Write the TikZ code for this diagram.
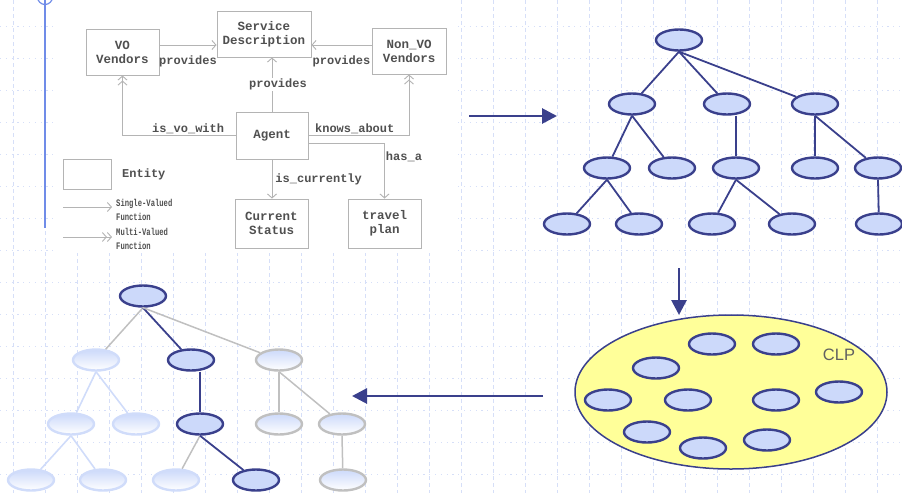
\documentclass[tikz,border=0pt]{standalone}
\usepackage{fontspec}
\usepackage{graphicx}
\newfontfamily\ermono{Liberation Mono}
\newfontfamily\clpsans{Liberation Sans}
\usetikzlibrary{arrows.meta,shapes.geometric,positioning}
\definecolor{navy}{RGB}{58,64,140}
\definecolor{nodefill}{RGB}{204,217,250}
\definecolor{fadeline}{RGB}{208,220,250}
\definecolor{grayline}{RGB}{192,192,192}
\definecolor{clpyellow}{RGB}{255,255,153}
\definecolor{gridcol}{RGB}{214,223,248}
\definecolor{sidecol}{RGB}{112,140,232}
\definecolor{erline}{RGB}{180,180,180}
\definecolor{ertext}{RGB}{80,80,80}
\newcommand{\narrow}[1]{\scalebox{0.72}[1]{#1}}

\begin{document}
\begin{tikzpicture}[x=1pt,y=-1pt,
    gridv/.style={gridcol, line width=0.8pt, dash pattern=on 4pt off 3pt},
    gridh/.style={gridcol, line width=0.9pt, dash pattern=on 1.2pt off 4.6pt},
    erbox/.style={draw=erline, line width=0.9pt, fill=white, minimum width=73pt, minimum height=46pt, align=center, inner sep=1pt, text=ertext, font={\ermono\bfseries\fontsize{12.5}{14}\selectfont}},
    erlbl/.style={inner sep=1pt, text=ertext, font={\ermono\bfseries\fontsize{12}{14}\selectfont}},
    erleg/.style={inner sep=1pt, align=left, text=ertext, font={\ermono\bfseries\fontsize{10}{14}\selectfont}},
    sv/.style={draw=erline, line width=0.9pt, -{Straight Barb[length=4pt,width=9pt]}},
    mv/.style={draw=erline, line width=0.9pt, -{Straight Barb[length=4pt,width=9pt]Straight Barb[length=4pt,width=9pt]}},
    tnode/.style={ellipse, draw=navy, line width=2.4pt, fill=nodefill, minimum width=46pt, minimum height=21pt, inner sep=0pt},
    fnode/.style={ellipse, draw=fadeline, line width=2.4pt, top color=nodefill, bottom color=white, minimum width=46pt, minimum height=21pt, inner sep=0pt},
    gnode/.style={ellipse, draw=grayline, line width=2.4pt, top color=nodefill, bottom color=white, minimum width=46pt, minimum height=21pt, inner sep=0pt},
    tedge/.style={navy, line width=1.8pt},
    fedge/.style={fadeline, line width=1.6pt},
    gedge/.style={grayline, line width=1.5pt},
    bigarr/.style={navy, line width=2.8pt, -{Triangle[length=15pt,width=15pt]}}
]
\useasboundingbox (0,0) rectangle (902,493);

% background grid
\foreach \gx in {0,...,27}
  \draw[gridv] ({13+32*\gx},0) -- ({13+32*\gx},493);
\foreach \gy in {0,...,14}
  \draw[gridh] (0,{26+32*\gy}) -- (902,{26+32*\gy});

% pasted ER figure
\fill[white] (53,0) rectangle (458,253);
\draw[sidecol, line width=1.4pt] (45,0) -- (45,228);
\draw[sidecol, line width=1.2pt] (45,-3) circle (7.5pt);

\node[erbox] (vo) at (122.5,52) {VO\\Vendors};
\node[erbox, minimum width=94pt] (sd) at (264,34) {Service\\Description};
\node[erbox, minimum width=74pt] (nonvo) at (409,51) {Non\_VO\\Vendors};
\node[erbox, minimum width=72pt, minimum height=47pt] (agent) at (272,135.5) {Agent};
\node[erbox, minimum height=49pt] (cs) at (271.5,223.5) {Current\\Status};
\node[erbox, minimum height=49pt] (travel) at (384.5,223.5) {travel\\plan};

\draw[sv] ([yshift=7pt]vo.east) -- node[erlbl, below=9pt] (lprov1) {provides} ([yshift=-11pt]sd.west);
\draw[sv] ([yshift=6pt]nonvo.west) -- node[erlbl, below=9pt] (lprov2) {provides} ([yshift=-11pt]sd.east);
\draw[sv] (agent.north) -- node[erlbl, fill=white, xshift=6pt] (lprov3) {provides} (agent.north |- sd.south);
\draw[mv] (agent.west) -| node[erlbl, above, pos=.21] (lvo) {is\_vo\_with} (vo.south);
\draw[mv] (agent.east) -| node[erlbl, above, pos=.23] (lknow) {knows\_about} (nonvo.south);
\draw[sv] (agent.south) -- node[erlbl, right=2pt] (lcur) {is\_currently} (agent.south |- cs.north);
\draw[sv] ([yshift=-8pt]agent.east) -| node[erlbl, right, pos=.62] (lhas) {has\_a} (travel.north);

% legend
\node[erbox, minimum width=48pt, minimum height=30pt] (entity) at (87,174) {};
\node[erlbl, anchor=west] (lentity) at (121,174) {Entity};
\coordinate (sva) at (63,207);
\coordinate (svb) at (112,207);
\draw[sv] (sva) -- (svb);
\node[erleg, anchor=west] (lsv) at (115,210) {\narrow{Single-Valued}\\\narrow{Function}};
\coordinate (mva) at (63,237);
\coordinate (mvb) at (112,237);
\draw[mv] (mva) -- (mvb);
\node[erleg, anchor=west] (lmv) at (115,239) {\narrow{Multi-Valued}\\\narrow{Function}};

% full tree
\node[tnode] (r) at (679,40) {};
\node[tnode] (a) at (632,104) {};
\node[tnode] (b) at (727,104) {};
\node[tnode] (c) at (815,104) {};
\node[tnode] (aa) at (607,168) {};
\node[tnode] (ab) at (672,168) {};
\node[tnode] (ba) at (736,168) {};
\node[tnode] (ca) at (815,168) {};
\node[tnode] (cb) at (878,168) {};
\node[tnode] (aaa) at (567,224) {};
\node[tnode] (aab) at (639,224) {};
\node[tnode] (baa) at (712,224) {};
\node[tnode] (bab) at (792,224) {};
\node[tnode] (cba) at (879,224) {};
\foreach \p/\q in {r/a,r/b,r/c,a/aa,a/ab,c/ca,c/cb,aa/aaa,aa/aab,ba/baa,ba/bab,cb/cba}
  \draw[tedge] (\p.south) -- (\q);
\draw[tedge] (ba |- b.south) -- (ba.north);

% CLP store
\node[ellipse, draw=navy, line width=1.5pt, fill=clpyellow, minimum width=312pt, minimum height=154pt] (clp) at (731,392) {};
\node[inner sep=0pt, text=black!62, font={\clpsans\fontsize{16.5}{18}\selectfont}] (clplbl) at (839,355) {CLP};
\node[tnode] (k1) at (712,344) {};
\node[tnode] (k2) at (776,344) {};
\node[tnode] (k3) at (656,368) {};
\node[tnode] (k4) at (608,400) {};
\node[tnode] (k5) at (688,400) {};
\node[tnode] (k6) at (776,400) {};
\node[tnode] (k7) at (839,392) {};
\node[tnode] (k8) at (647,432) {};
\node[tnode] (k9) at (703,448) {};
\node[tnode] (k10) at (767,440) {};

% pruned tree
\begin{scope}[shift={(-536,256)}]
\node[tnode] (qr) at (679,40) {};
\node[fnode] (qa) at (632,104) {};
\node[tnode] (qb) at (727,104) {};
\node[gnode] (qc) at (815,104) {};
\node[fnode] (qaa) at (607,168) {};
\node[fnode] (qab) at (672,168) {};
\node[tnode] (qba) at (736,168) {};
\node[gnode] (qca) at (815,168) {};
\node[gnode] (qcb) at (878,168) {};
\node[fnode] (qaaa) at (567,224) {};
\node[fnode] (qaab) at (639,224) {};
\node[fnode] (qbaa) at (712,224) {};
\node[tnode] (qbab) at (792,224) {};
\node[gnode] (qcba) at (879,224) {};
\end{scope}
\draw[gedge] (qr.south) -- (qa);
\draw[tedge] (qr.south) -- (qb);
\draw[gedge] (qr.south) -- (qc);
\foreach \p/\q in {qa/qaa,qa/qab,qaa/qaaa,qaa/qaab}
  \draw[fedge] (\p.south) -- (\q);
\foreach \p/\q in {qc/qca,qc/qcb,qcb/qcba,qba/qbaa}
  \draw[gedge] (\p.south) -- (\q);
\draw[tedge] (qba |- qb.south) -- (qba.north);
\draw[tedge] (qba.south) -- (qbab);

% steps
\coordinate (s1a) at (469,116);
\coordinate (s1b) at (557,116);
\draw[bigarr] (s1a) -- (s1b);
\coordinate (s2a) at (679,268);
\coordinate (s2b) at (679,315);
\draw[bigarr] (s2a) -- (s2b);
\coordinate (s3a) at (543,396);
\coordinate (s3b) at (352,396);
\draw[bigarr] (s3a) -- (s3b);
\end{tikzpicture}
\end{document}
